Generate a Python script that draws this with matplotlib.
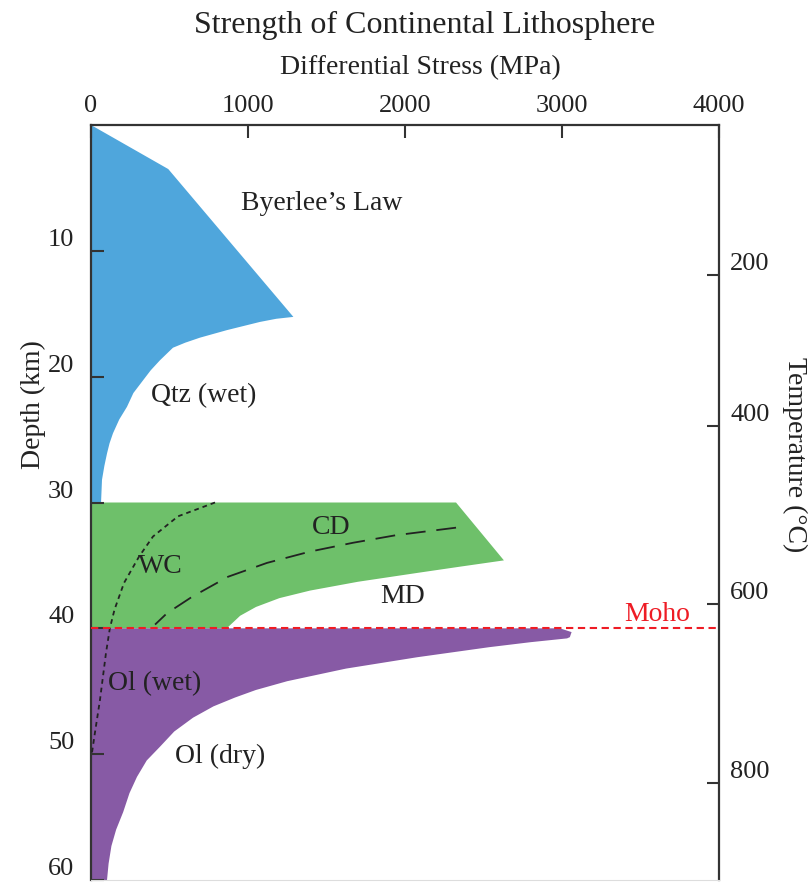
import matplotlib
matplotlib.use('Agg')
import matplotlib.pyplot as plt

# ─── data (stress in MPa, depth in km) ────────────────────────────────────────
QTZ_STRESS = [0, 492, 1289, 1180, 1076, 866, 694, 600, 522, 439, 380, 331, 270,
              229, 180, 140, 118, 102, 85, 70, 64, 0]
QTZ_DEPTH  = [0, 3.5, 15.25, 15.4, 15.65, 16.3, 16.9, 17.3, 17.7, 18.7, 19.5, 20.3, 21.3,
              22.4, 23.4, 24.5, 25.3, 26.1, 27.1, 28.2, 30, 30]

LC_STRESS = [0, 2325, 2630, 2350, 2076, 1700, 1395, 1200, 1051, 950, 873, 847, 0]
LC_DEPTH  = [30, 30, 34.6, 35.1, 35.6, 36.3, 37.0, 37.6, 38.3, 39.0, 39.9, 40, 40]

OL_STRESS = [0, 2987, 3061, 3050, 3032, 2800, 2535, 2076, 1624, 1250, 1050, 917,
             780, 650, 530, 440, 355, 293, 245, 205, 160, 130, 112, 102, 0]
OL_DEPTH  = [40, 40, 40.3, 40.7, 40.8, 41.1, 41.5, 42.3, 43.2, 44.2, 44.9, 45.5,
             46.2, 47.1, 48.2, 49.4, 50.5, 51.8, 53.1, 54.6, 56.0, 57.3, 58.7, 60, 60]

CD_STRESS = [2325, 1942, 1669, 1395, 1121, 873, 643, 484, 408]
CD_DEPTH  = [32.0, 32.6, 33.2, 33.9, 34.8, 35.9, 37.5, 38.8, 39.7]

WC_STRESS = [790, 554, 395, 306, 210, 150, 120, 95, 57, 25, 5]
WC_DEPTH  = [30, 31.1, 32.7, 34.3, 36.4, 38.5, 40, 42, 45.7, 48.3, 50]

MOHO_DEPTH = 40

X_TICKS  = [0, 1000, 2000, 3000, 4000]
Y_TICKS  = [10, 20, 30, 40, 50, 60]
T_LABELS = ['200', '400', '600', '800']
T_DEPTHS = [11.9, 23.9, 38.1, 52.3]

LABELS = [  # text, stress, depth, ha
    ('Byerlee\u2019s Law', 955, 6.2, 'left'),
    ('Qtz (wet)', 380, 21.5, 'left'),
    ('CD', 1529, 32.0, 'center'),
    ('WC', 440, 35.1, 'center'),
    ('MD', 1987, 37.5, 'center'),
    ('Ol (wet)', 108, 44.4, 'left'),
    ('Ol (dry)', 535, 50.2, 'left'),
]

BLUE   = '#4fa6dc'
GREEN  = '#6ec06a'
PURPLE = '#875aa5'
RED    = '#ee1c25'
INK    = '#222222'
SPINE  = '#333333'

plt.rcParams['font.family'] = ['Liberation Serif', 'DejaVu Serif']

fig = plt.figure(figsize=(8.12, 8.82), dpi=100)
ax = fig.add_axes([91 / 812, 2 / 882, 628 / 812, 755 / 882])

ax.fill(QTZ_STRESS, QTZ_DEPTH, color=BLUE, lw=0, zorder=1)
ax.fill(LC_STRESS, LC_DEPTH, color=GREEN, lw=0, zorder=1)
ax.fill(OL_STRESS, OL_DEPTH, color=PURPLE, lw=0, zorder=1)

ax.plot(CD_STRESS, CD_DEPTH, color=INK, lw=1.3, dashes=(11, 6), zorder=3)
ax.plot(WC_STRESS, WC_DEPTH, color=INK, lw=1.3, dashes=(2.6, 2.2), zorder=3)
ax.axhline(MOHO_DEPTH, color=RED, lw=1.5, dashes=(3.5, 2.2), zorder=4)

for txt, sx, dy, ha in LABELS:
    ax.text(sx, dy, txt, ha=ha, va='center', fontsize=20, color=INK, zorder=5)
ax.text(3605, 38.9, 'Moho', ha='center', va='center', fontsize=20, color=RED, zorder=5)

ax.set_xlim(0, 4000)
ax.set_ylim(60, 0)
ax.xaxis.tick_top()
ax.set_xticks(X_TICKS)
ax.set_xticklabels([str(v) for v in X_TICKS])
ax.set_yticks(Y_TICKS)
ax.set_yticklabels([str(v) for v in Y_TICKS])
ax.tick_params(axis='x', direction='in', length=9, width=1.5, color=SPINE,
               labelsize=19, labelcolor=INK, pad=6)
ax.tick_params(axis='y', direction='in', length=9, width=1.5, color=SPINE,
               labelsize=19, labelcolor=INK, pad=12)
for t in ax.get_yticklabels():
    t.set_va('bottom')

for s in ['left', 'top', 'right']:
    ax.spines[s].set_linewidth(1.6)
    ax.spines[s].set_color(SPINE)
ax.spines['bottom'].set_color('#dddddd')
ax.spines['bottom'].set_linewidth(0.8)

# temperature axis on the right
ax2 = ax.twinx()
ax2.set_ylim(60, 0)
ax2.set_yticks(T_DEPTHS)
ax2.set_yticklabels(T_LABELS)
ax2.tick_params(axis='y', direction='in', length=9, width=1.5, color=SPINE,
                labelsize=19, labelcolor=INK, pad=8)
for t in ax2.get_yticklabels():
    t.set_va('bottom')
for s in ax2.spines.values():
    s.set_visible(False)

fig.text(425 / 812, 1 - 25 / 882, 'Strength of Continental Lithosphere',
         ha='center', va='center', fontsize=23, color=INK)
fig.text(420 / 812, 1 - 68 / 882, 'Differential Stress (MPa)',
         ha='center', va='center', fontsize=20, color=INK)
fig.text(33 / 812, 1 - 405 / 882, 'Depth (km)', rotation=90,
         ha='center', va='center', fontsize=20, color=INK)
fig.text(795 / 812, 1 - 455 / 882, 'Temperature (\u00b0C)', rotation=270,
         ha='center', va='center', fontsize=20, color=INK)

fig.savefig('out.png', dpi=100)
